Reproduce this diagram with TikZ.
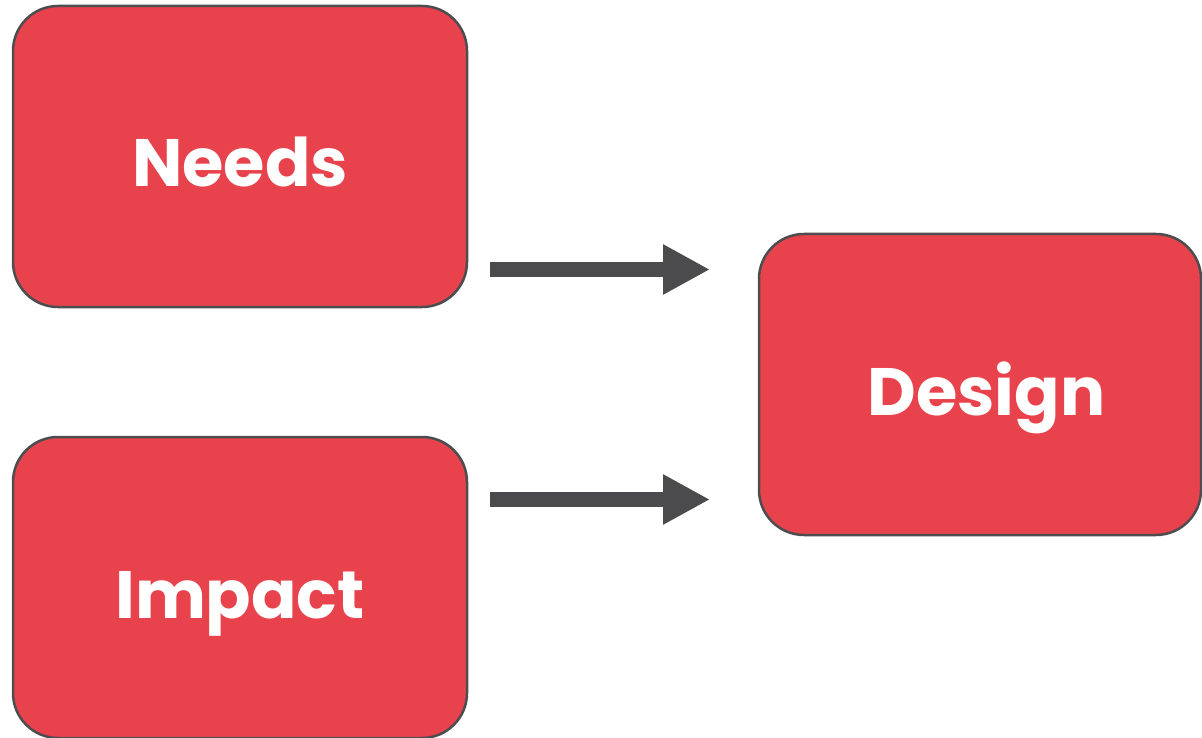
\documentclass[tikz,border=0pt]{standalone}
\usepackage{fontspec}
\setmainfont{Poppins}
\usetikzlibrary{arrows.meta}
\definecolor{boxred}{RGB}{232,67,76}
\definecolor{boxline}{RGB}{77,77,79}
\definecolor{arrgray}{RGB}{75,75,77}
\tikzset{
  box/.style={draw=boxline, fill=boxred, line width=2.5pt, rounded corners=45pt,
    minimum width=454pt, minimum height=301pt, inner sep=0pt, outer sep=0pt},
  lbl/.style={text=white, font=\fontsize{67}{78}\selectfont\bfseries, inner sep=0pt, anchor=base},
  arr/.style={draw=arrgray, line width=15pt, -{Triangle[length=47pt,width=47pt]}}
}
\begin{document}
\begin{tikzpicture}[x=1pt,y=-1pt]
\useasboundingbox (0,0) rectangle (1202,738);
\node[box] (needs) at (240,156.5) {};
\node[box] (impact) at (240,587.5) {};
\node[box, minimum width=442pt] (design) at (980,384.5) {};
\node[lbl] (needsT) at ([yshift=-30.5pt]needs.center) {Needs};
\node[lbl] (impactT) at ([yshift=-30.5pt]impact.center) {Impact};
\node[lbl] (designT) at ([xshift=6.5pt,yshift=-30.5pt]design.center) {Design};
\draw[arr] ([xshift=23pt,yshift=-113pt]needs.east) -- ([xshift=-49pt,yshift=-113pt]needs.east -| design.west);
\draw[arr] ([xshift=23pt,yshift=88pt]impact.east) -- ([xshift=-49pt,yshift=88pt]impact.east -| design.west);
\end{tikzpicture}
\end{document}
